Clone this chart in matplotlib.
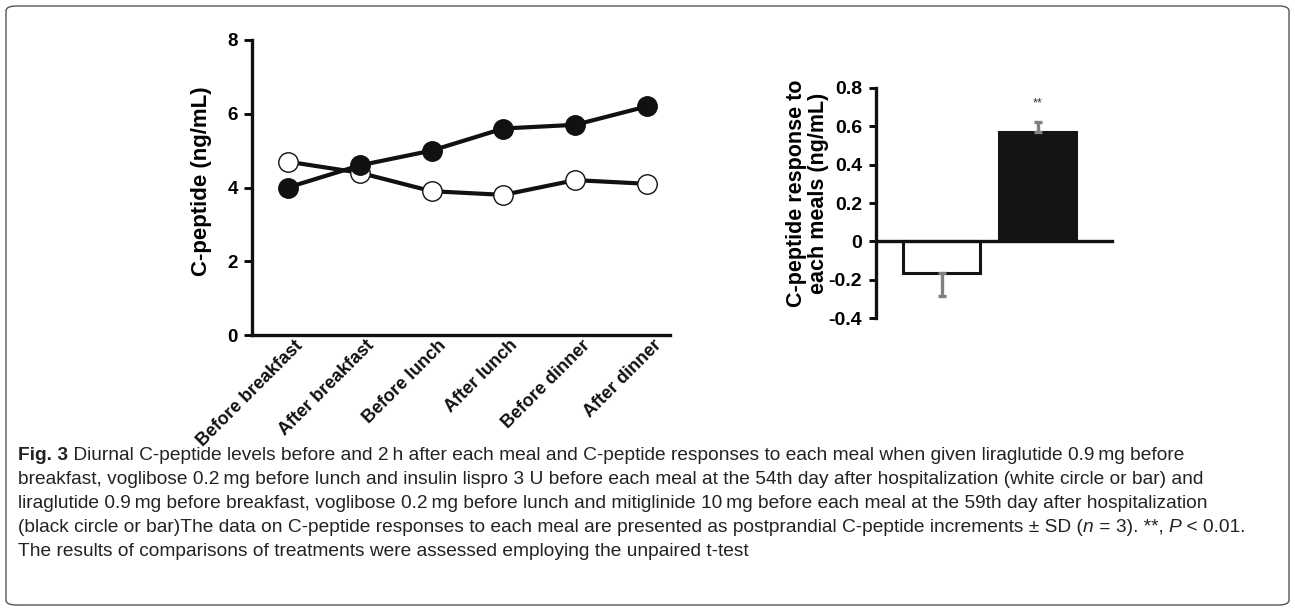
import matplotlib
matplotlib.use("Agg")
import matplotlib.pyplot as plt
from matplotlib.patches import FancyBboxPatch
import matplotlib.transforms as mtransforms

# data
times = ["Before breakfast", "After breakfast", "Before lunch",
         "After lunch", "Before dinner", "After dinner"]
cpep_day54 = [4.7, 4.4, 3.9, 3.8, 4.2, 4.1]   # white circles
cpep_day59 = [4.0, 4.6, 5.0, 5.6, 5.7, 6.2]   # black circles

response = [-0.165, 0.57]          # white bar, black bar
response_sd_low = [0.12, 0.0]
response_sd_high = [0.0, 0.055]

# caption pieces: (text, weight, style)
caption = [
    [("Fig. 3", "bold", "normal"),
     (" Diurnal C-peptide levels before and 2\u2009h after each meal and C-peptide responses to each meal when given liraglutide 0.9\u2009mg before", "normal", "normal")],
    [("breakfast, voglibose 0.2\u2009mg before lunch and insulin lispro 3 U before each meal at the 54th day after hospitalization (white circle or bar) and", "normal", "normal")],
    [("liraglutide 0.9\u2009mg before breakfast, voglibose 0.2\u2009mg before lunch and mitiglinide 10\u2009mg before each meal at the 59th day after hospitalization", "normal", "normal")],
    [("(black circle or bar)The data on C-peptide responses to each meal are presented as postprandial C-peptide increments \u00b1 SD (", "normal", "normal"),
     ("n", "normal", "italic"), (" = 3). **, ", "normal", "normal"),
     ("P", "normal", "italic"), (" < 0.01.", "normal", "normal")],
    [("The results of comparisons of treatments were assessed employing the unpaired t-test", "normal", "normal")],
]

plt.rcParams['font.family'] = ['Liberation Sans', 'DejaVu Sans']
W, H = 1295, 611
fig = plt.figure(figsize=(W / 100, H / 100), dpi=100)

# rounded frame around the whole figure
frame = FancyBboxPatch((6 / W, 6 / H), (W - 12) / W, (H - 12) / H,
                       boxstyle="round,pad=0,rounding_size=0.008",
                       transform=fig.transFigure, fill=False,
                       edgecolor="#555555", linewidth=1.0)
fig.patches.append(frame)

# ---- left: diurnal C-peptide ----
ax1 = fig.add_axes([252 / W, 1 - 335 / H, 418 / W, 295 / H])
x = list(range(len(times)))
ax1.plot(x, cpep_day54, color="#111111", lw=3, marker="o", ms=14,
         mfc="white", mec="#111111", mew=1.0, zorder=3)
ax1.plot(x, cpep_day59, color="#111111", lw=3, marker="o", ms=14,
         mfc="#111111", mec="#111111", zorder=4)
ax1.set_xlim(-0.5, 5.32)
ax1.set_ylim(0, 8)
ax1.set_yticks([0, 2, 4, 6, 8])
ax1.set_xticks(x)
ax1.set_xticklabels([])
# rotated category labels, nudged a little to the right of each tick
offset = mtransforms.ScaledTranslation(12 / 100, -8 / 100, fig.dpi_scale_trans)
for xi, lab in zip(x, times):
    ax1.text(xi, 0, lab, transform=ax1.get_xaxis_transform() + offset,
             rotation=45, ha="right", va="center", rotation_mode="anchor",
             fontsize=13, fontweight="bold", color="#111111")
ax1.tick_params(axis="x", length=0)
ax1.tick_params(axis="y", length=6, width=2, labelsize=13.5, pad=4)
for lab in ax1.get_yticklabels():
    lab.set_fontweight("bold")
ax1.set_ylabel("C-peptide (ng/mL)", fontsize=16, fontweight="bold")
ax1.yaxis.set_label_coords(-0.095, 0.52)
for s in ["top", "right"]:
    ax1.spines[s].set_visible(False)
for s in ["left", "bottom"]:
    ax1.spines[s].set_linewidth(2.4)
    ax1.spines[s].set_color("#111111")

# ---- right: C-peptide response ----
ax2 = fig.add_axes([876 / W, 1 - 318 / H, 236 / W, 230 / H])
xb = [0, 1]
ax2.bar(xb, response, width=0.8, color=["white", "#141414"],
        edgecolor="#141414", linewidth=2.2, zorder=2)
ax2.errorbar(xb, response, yerr=[response_sd_low, response_sd_high], fmt="none",
             ecolor="#808080", elinewidth=2.4, capsize=3, capthick=2.4, zorder=3)
ax2.text(1, 0.72, "**", ha="center", va="center", fontsize=9, color="#333333")
ax2.set_xlim(-0.68, 1.77)
ax2.set_ylim(-0.4, 0.8)
ax2.set_yticks([-0.4, -0.2, 0, 0.2, 0.4, 0.6, 0.8])
ax2.set_yticklabels(["-0.4", "-0.2", "0", "0.2", "0.4", "0.6", "0.8"],
                    fontweight="bold")
ax2.set_xticks([])
ax2.tick_params(axis="y", length=5, width=2, labelsize=14, pad=5)
ax2.set_ylabel("C-peptide response to\neach meals (ng/mL)", fontsize=15.5,
               fontweight="bold", linespacing=1.05)
ax2.yaxis.set_label_coords(-0.2, 0.54)
ax2.spines["bottom"].set_position(("data", 0))
for s in ["top", "right"]:
    ax2.spines[s].set_visible(False)
for s in ["left", "bottom"]:
    ax2.spines[s].set_linewidth(2.4)
    ax2.spines[s].set_color("#111111")

# ---- caption (pieces chained so that bold / italic runs follow each other) ----
cap_font = ['Liberation Sans', 'DejaVu Sans']
cap_size = 13.8
y0 = 1 - 460 / H
for i, line in enumerate(caption):
    y = y0 - i * 24 / H
    prev = None
    for txt, weight, style in line:
        if prev is None:
            prev = fig.text(18 / W, y, txt, fontsize=cap_size, fontweight=weight,
                            fontstyle=style, family=cap_font, color="#222222",
                            va="baseline", ha="left")
        else:
            prev = ax1.annotate(txt, xy=(1, 0), xycoords=prev,
                                va="bottom", ha="left", fontsize=cap_size,
                                fontweight=weight, fontstyle=style,
                                family=cap_font, color="#222222",
                                annotation_clip=False)

fig.savefig("out.png", dpi=100)
